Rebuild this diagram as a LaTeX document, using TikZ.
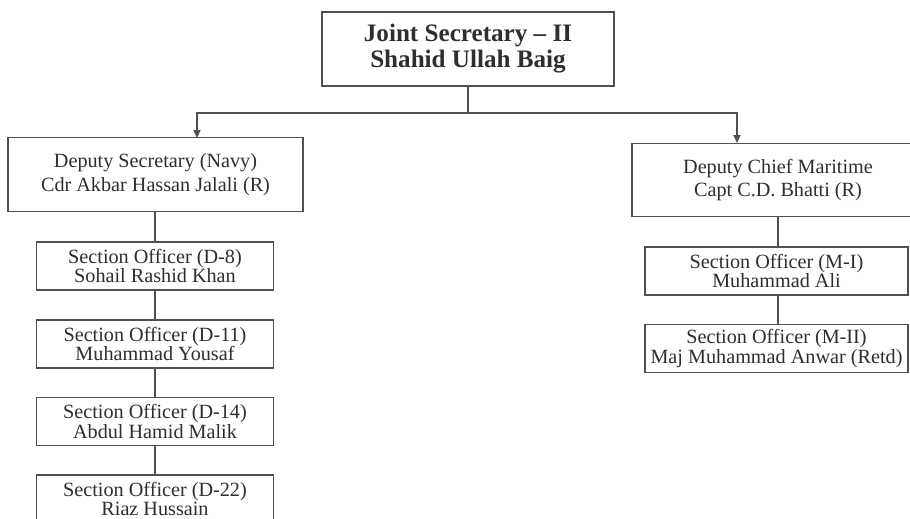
\documentclass[tikz,border=0pt]{standalone}
\usepackage{fontspec}
\setmainfont{Liberation Serif}
\usepackage{tikz}
\usetikzlibrary{arrows.meta}

\definecolor{inkgray}{HTML}{2E2E2E}
\definecolor{linegray}{HTML}{505050}

\begin{document}
\begin{tikzpicture}[x=0.02cm, y=-0.02cm,
    box/.style={draw=linegray, line width=0.8pt, fill=white, text=inkgray, align=center, inner sep=0pt},
    headbox/.style={box, minimum width=5.84cm, minimum height=1.48cm, font=\fontsize{14.3}{14.8}\selectfont\bfseries},
    deputybox/.style={box, minimum height=1.47cm, font=\fontsize{11.5}{13.6}\selectfont},
    officerbox/.style={box, minimum height=0.96cm, font=\fontsize{11.5}{11.3}\selectfont},
    link/.style={draw=linegray, line width=0.8pt},
    arr/.style={link, -{Triangle[width=4pt,length=4.5pt]}}]
        \useasboundingbox[fill=white] (0,0) rectangle (910,518);

        % Draw the head box
        \node[headbox] (js) at (468,49) {Joint Secretary -- II\\Shahid Ullah Baig};

        % Draw the deputy boxes
        \node[deputybox, minimum width=5.9cm] (ds) at (155.5,174.5) {Deputy Secretary (Navy)\\Cdr Akbar Hassan Jalali (R)};
        \node[deputybox, minimum width=5.84cm] (dcm) at (778,180) {Deputy Chief Maritime\\Capt C.D. Bhatti (R)};

        % Draw the section officers (Navy)
        \node[officerbox, minimum width=4.74cm] (d8) at (155,266) {Section Officer (D-8)\\Sohail Rashid Khan};
        \node[officerbox, minimum width=4.74cm] (d11) at (155,344) {Section Officer (D-11)\\Muhammad Yousaf};
        \node[officerbox, minimum width=4.74cm] (d14) at (155,421.5) {Section Officer (D-14)\\Abdul Hamid Malik};
        \node[officerbox, minimum width=4.74cm] (d22) at (155,499) {Section Officer (D-22)\\Riaz Hussain};

        % Draw the section officers (Maritime)
        \node[officerbox, minimum width=5.26cm] (mi) at (776.5,271) {Section Officer (M-I)\\Muhammad Ali};
        \node[officerbox, minimum width=5.26cm] (mii) at (776.5,348.5) {Section Officer (M-II)\\Maj Muhammad Anwar (Retd)};

        % Add connectors
        \coordinate (split) at (468,113);
        \coordinate (dsin) at (197,138);
        \coordinate (dcmin) at (737,143);
        \draw[link] (js.south) -- (split);
        \draw[arr] (split) -| (dsin);
        \draw[arr] (split) -| (dcmin);

        \draw[link] (ds.south -| d8.north) -- (d8.north);
        \draw[link] (d8) -- (d11);
        \draw[link] (d11) -- (d14);
        \draw[link] (d14) -- (d22);

        \draw[link] (dcm.south) -- (dcm.south |- mi.north);
        \draw[link] (mi.south -| dcm.south) -- (mii.north -| dcm.south);
    \end{tikzpicture}
\end{document}
